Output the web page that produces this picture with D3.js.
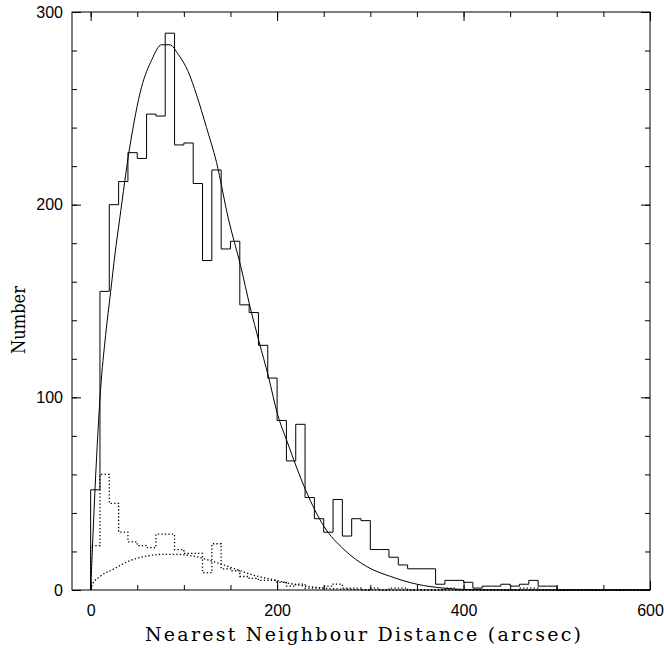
<!DOCTYPE html>
<html>
<head>
<meta charset="utf-8">
<script src="https://cdn.jsdelivr.net/npm/d3@7/dist/d3.min.js"></script>
<style>
  body { margin: 0; background: #fff; }
  .tick text { font-family: "Liberation Sans", Arial, sans-serif; font-size: 16px; fill: #000; }
  .tick line { stroke: #000; }
  .title { font-family: "DejaVu Serif", "Liberation Serif", serif; fill: #000; }
</style>
</head>
<body>
<div id="chart"></div>
<script>
// histogram bins, 10 arcsec wide, left edges from 0
const binWidth = 10;
const allCounts = [52, 155, 200, 212, 227, 224, 247, 246, 289, 231,
    232, 211, 171, 218, 177, 181, 148, 144, 127, 110,
    88, 67, 86, 48, 37, 30, 47, 28, 37, 36,
    21, 21, 17, 13, 11, 11, 11, 3, 5, 5,
    4, 1, 2, 2, 3, 2, 3, 5, 2, 2];
const subCounts = [23, 60, 45, 30, 25, 23, 22, 29, 29, 21,
    19, 19, 9, 24, 11, 10, 7, 6, 5, 5,
    4, 2, 3, 1, 1, 2, 3, 1, 1, 0,
    1, 0, 1, 1, 0, 0, 0, 0, 1, 0,
    0, 0, 0, 0, 0, 0, 1, 1, 0, 0];

// fitted curves
const fitR = [0, 6.5, 10.5, 16, 21.5, 26, 31, 42, 54.6, 65.4, 76, 85, 94, 104.7, 113.6, 124.3, 135, 147.6,
    161, 171, 180.6, 190.6, 200.6, 210.8, 230.5, 250.3, 271.8, 296.8, 321.9, 350, 378, 400, 450, 600];
const fitN = [0, 70, 103, 132, 155, 174, 192, 230, 261, 275, 283, 283, 278, 269, 257, 240, 222, 193,
    168, 147, 129, 111, 91, 77, 52, 33, 21, 12, 7, 3, 1, 0.3, 0, 0];
const subFitR = [0, 2, 10, 24, 42, 60, 78, 92, 110, 132, 153, 174, 199, 220, 245, 280, 320, 600];
const subFitN = [0, 3, 7, 10.7, 15.2, 17.6, 18.5, 18.5, 17.6, 14.7, 11.3, 7.8, 5, 2.8, 1.2, 0.3, 0, 0];

const xMajor = [0, 200, 400, 600];
const xMinor = d3.range(0, 601, 50);
const yMajor = [0, 100, 200, 300];
const yMinor = d3.range(0, 301, 20);

const width = 664, height = 650;
const margin = {top: 12, right: 14, bottom: 60, left: 72};

const svg = d3.select("#chart")
    .append("svg")
    .attr("width", width)
    .attr("height", height);

const x = d3.scaleLinear().domain([-20, 600]).range([margin.left, width - margin.right]);
const y = d3.scaleLinear().domain([0, 300]).range([height - margin.bottom, margin.top]);

function stepPoints(counts) {
    const pts = [[0, 0]];
    counts.forEach(function (c, i) { pts.push([i * binWidth, c]); });
    pts.push([counts.length * binWidth, 0]);
    pts.push([600, 0]);
    return pts;
}

const stepLine = d3.line()
    .x(d => x(d[0]))
    .y(d => y(d[1]))
    .curve(d3.curveStepAfter);

const smoothLine = d3.line()
    .x(d => x(d[0]))
    .y(d => y(d[1]))
    .curve(d3.curveMonotoneX);

svg.append("path")
    .attr("d", stepLine(stepPoints(allCounts)))
    .attr("fill", "none")
    .attr("stroke", "#000")
    .attr("stroke-width", 1);

svg.append("path")
    .attr("d", stepLine(stepPoints(subCounts)))
    .attr("fill", "none")
    .attr("stroke", "#000")
    .attr("stroke-width", 1.3)
    .attr("stroke-dasharray", "1.3,2.2");

svg.append("path")
    .attr("d", smoothLine(fitR.map((r, i) => [r, fitN[i]])))
    .attr("fill", "none")
    .attr("stroke", "#000")
    .attr("stroke-width", 1);

svg.append("path")
    .attr("d", smoothLine(subFitR.map((r, i) => [r, subFitN[i]])))
    .attr("fill", "none")
    .attr("stroke", "#000")
    .attr("stroke-width", 1.3)
    .attr("stroke-dasharray", "1.3,2.2");

// axes: ticks point inward on all four sides
const bottomY = height - margin.bottom, rightX = width - margin.right;

function addAxis(axis, tx, ty) {
    const g = svg.append("g").attr("transform", "translate(" + tx + "," + ty + ")").call(axis);
    g.select(".domain").remove();
    return g;
}

addAxis(d3.axisBottom(x).tickValues(xMajor).tickSizeInner(-9).tickSizeOuter(0).tickPadding(15).tickFormat(d3.format("d")), 0, bottomY);
addAxis(d3.axisBottom(x).tickValues(xMinor).tickSizeInner(-5).tickSizeOuter(0).tickFormat(""), 0, bottomY);
addAxis(d3.axisTop(x).tickValues(xMajor).tickSizeInner(-9).tickSizeOuter(0).tickFormat(""), 0, margin.top);
addAxis(d3.axisTop(x).tickValues(xMinor).tickSizeInner(-5).tickSizeOuter(0).tickFormat(""), 0, margin.top);
addAxis(d3.axisLeft(y).tickValues(yMajor).tickSizeInner(-9).tickSizeOuter(0).tickPadding(9).tickFormat(d3.format("d")), margin.left, 0);
addAxis(d3.axisLeft(y).tickValues(yMinor).tickSizeInner(-5).tickSizeOuter(0).tickFormat(""), margin.left, 0);
addAxis(d3.axisRight(y).tickValues(yMajor).tickSizeInner(-9).tickSizeOuter(0).tickFormat(""), rightX, 0);
addAxis(d3.axisRight(y).tickValues(yMinor).tickSizeInner(-5).tickSizeOuter(0).tickFormat(""), rightX, 0);

svg.append("rect")
    .attr("x", margin.left)
    .attr("y", margin.top)
    .attr("width", rightX - margin.left)
    .attr("height", bottomY - margin.top)
    .attr("fill", "none")
    .attr("stroke", "#000")
    .attr("stroke-width", 1);

svg.append("text")
    .attr("class", "title")
    .attr("x", 363)
    .attr("y", 641)
    .attr("text-anchor", "middle")
    .attr("textLength", 436)
    .attr("lengthAdjust", "spacing")
    .style("font-size", "19px")
    .text("Nearest Neighbour Distance (arcsec)");

svg.append("text")
    .attr("class", "title")
    .attr("transform", "translate(25,320) rotate(-90)")
    .attr("text-anchor", "middle")
    .attr("textLength", 68)
    .attr("lengthAdjust", "spacingAndGlyphs")
    .style("font-size", "19px")
    .text("Number");
</script>
</body>
</html>
